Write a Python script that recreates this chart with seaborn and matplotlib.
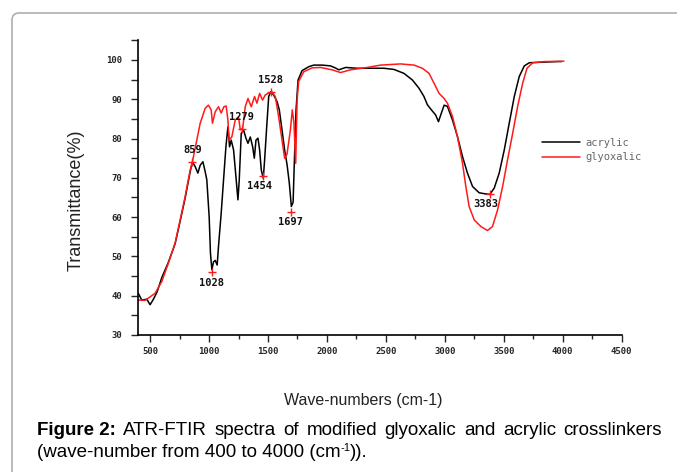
import matplotlib
matplotlib.use("Agg")
import matplotlib.pyplot as plt
from matplotlib.patches import FancyBboxPatch
from matplotlib.ticker import MultipleLocator
from matplotlib.transforms import IdentityTransform
import seaborn as sns
import pandas as pd

# spectra (wave-number, transmittance %)
acrylic_x = [400, 429, 472, 500, 528, 560, 599, 655, 712, 755, 797, 840, 859, 882, 905, 925,
             948, 967, 981, 1001, 1012, 1024, 1038, 1052, 1069, 1080, 1103, 1123, 1143, 1160,
             1174, 1188, 1208, 1228, 1245, 1256, 1273, 1293, 1313, 1330, 1350, 1370, 1384,
             1398, 1415, 1429, 1443, 1460, 1471, 1489, 1506, 1523, 1548, 1577, 1596, 1619,
             1641, 1662, 1681, 1698, 1713, 1724, 1738, 1755, 1789, 1846, 1888, 1960, 2030,
             2070, 2101, 2158, 2257, 2342, 2483, 2568, 2653, 2725, 2781, 2823, 2852, 2886,
             2922, 2946, 2965, 2994, 3022, 3065, 3107, 3150, 3192, 3235, 3291, 3348, 3382,
             3419, 3461, 3504, 3546, 3589, 3631, 3674, 3716, 3787, 3958, 3990]
acrylic_y = [40.6, 38.9, 39.1, 37.7, 39.1, 41.0, 44.6, 48.5, 53.2, 59.0, 64.8, 71.6, 74.0, 72.9,
             71.2, 73.2, 74.1, 71.6, 69.5, 60.1, 50.8, 46.6, 48.6, 49.0, 47.8, 52.5, 61.0, 69.5,
             77.9, 83.0, 77.9, 79.6, 77.1, 70.3, 64.4, 69.4, 81.3, 82.2, 80.1, 78.8, 80.4, 77.9,
             75.0, 79.6, 80.1, 77.1, 72.0, 69.9, 74.4, 83.0, 90.7, 91.9, 91.1, 89.4, 87.3, 82.2,
             77.1, 73.3, 68.6, 62.7, 63.8, 74.6, 87.3, 94.9, 97.3, 98.3, 98.7, 98.7, 98.5, 98.0,
             97.5, 98.1, 97.9, 97.9, 97.9, 97.6, 96.6, 94.9, 92.8, 90.7, 88.6, 87.3, 86.0, 84.3,
             86.0, 88.5, 88.2, 84.7, 80.5, 75.4, 71.2, 67.8, 66.2, 65.9, 65.8, 67.4, 71.2, 77.1,
             83.9, 90.7, 95.8, 98.5, 99.3, 99.4, 99.6, 99.6]

glyoxalic_x = [400, 457, 542, 599, 655, 712, 755, 797, 840, 859, 896, 925, 967, 995, 1018, 1029,
               1052, 1080, 1103, 1126, 1145, 1160, 1170, 1193, 1222, 1250, 1265, 1285, 1307,
               1330, 1358, 1386, 1406, 1429, 1454, 1477, 1500, 1534, 1562, 1590, 1619, 1641,
               1661, 1690, 1706, 1720, 1735, 1747, 1760, 1803, 1874, 1945, 2044, 2115, 2200,
               2342, 2455, 2625, 2739, 2809, 2866, 2908, 2951, 2994, 3022, 3065, 3107, 3150,
               3178, 3206, 3249, 3306, 3362, 3404, 3447, 3490, 3532, 3575, 3617, 3660, 3697,
               3745, 3844, 4010]
glyoxalic_y = [38.9, 38.8, 40.6, 43.6, 48.3, 53.4, 59.3, 65.2, 72.0, 74.1, 79.6, 83.9, 87.7, 88.5,
               87.3, 83.9, 86.8, 88.1, 86.5, 88.1, 88.3, 84.7, 79.6, 80.4, 84.7, 85.5, 82.2, 82.6,
               88.1, 90.2, 88.1, 90.7, 89.0, 91.5, 89.8, 91.1, 91.5, 91.9, 90.7, 85.6, 79.6, 75.0,
               76.0, 82.2, 87.3, 84.0, 73.7, 89.8, 94.5, 97.0, 98.0, 98.1, 97.5, 96.8, 97.5, 98.1,
               98.7, 99.0, 98.7, 97.9, 96.6, 94.1, 91.5, 90.2, 89.0, 85.6, 80.5, 73.7, 67.8, 62.7,
               59.3, 57.6, 56.6, 57.6, 61.8, 67.8, 74.6, 81.3, 88.1, 94.1, 97.9, 99.3, 99.6, 99.7]

# marked peaks
peak_x = [859, 1028, 1279, 1454, 1528, 1697, 3383]
peak_y = [74.1, 46.1, 82.4, 70.5, 91.8, 61.4, 65.8]
peak_labels = ["859", "1028", "1279", "1454", "1528", "1697", "3383"]
peak_offsets = [(0, 12), (-1, -11), (0, 12), (-3, -10), (-1, 12), (-1, -10), (-4, -10)]

df = pd.concat([
    pd.DataFrame({"wave": acrylic_x, "T": acrylic_y, "sample": "acrylic"}),
    pd.DataFrame({"wave": glyoxalic_x, "T": glyoxalic_y, "sample": "glyoxalic"}),
])

sns.set_style("ticks")
plt.rcParams["font.family"] = ["Liberation Sans", "DejaVu Sans"]
plt.rcParams["mathtext.fontset"] = "custom"
plt.rcParams["mathtext.rm"] = "Liberation Sans"
plt.rcParams["mathtext.it"] = "Liberation Sans:italic"

fig = plt.figure(figsize=(6.77, 4.72), dpi=100)
ax = fig.add_axes([0.2043, 0.2903, 0.714, 0.6242])

sns.lineplot(data=df, x="wave", y="T", hue="sample", sort=False, estimator=None,
             palette={"acrylic": "black", "glyoxalic": "#ff1a1a"}, lw=1.1, ax=ax)

ax.plot(peak_x, peak_y, "+", color="#ff1a1a", ms=6, mew=1.0)
for px, py, lab, off in zip(peak_x, peak_y, peak_labels, peak_offsets):
    ax.annotate(lab, (px, py), xytext=off, textcoords="offset pixels", ha="center", va="center",
                fontsize=7.5, fontweight="bold", family="DejaVu Sans Mono", color="#111111")

ax.set_xlim(400, 4500)
ax.set_ylim(30, 105)
ax.xaxis.set_major_locator(MultipleLocator(500))
ax.xaxis.set_minor_locator(MultipleLocator(250))
ax.yaxis.set_major_locator(MultipleLocator(10))
ax.yaxis.set_minor_locator(MultipleLocator(5))
ax.tick_params(axis="x", which="major", length=5, width=1, pad=3.5)
ax.tick_params(axis="x", which="minor", length=3, width=1)
ax.tick_params(axis="y", which="both", length=5, width=1, pad=6.5)
for lab in ax.get_xticklabels() + ax.get_yticklabels():
    lab.set_family("DejaVu Sans Mono")
    lab.set_fontweight("bold")
    lab.set_fontsize(6.5)
sns.despine(ax=ax)
for s in ["left", "bottom"]:
    ax.spines[s].set_linewidth(1.2)
    ax.spines[s].set_color("black")

ax.set_xlabel("Wave-numbers (cm-1)", fontsize=11.5, color="#222222")
ax.set_ylabel("Transmittance(%)", fontsize=13, color="#222222")
ax.xaxis.set_label_coords(0.465, -0.197)
ax.yaxis.set_label_coords(-0.112, 0.458)

leg = ax.legend(loc="center left", bbox_to_anchor=(0.825, 0.628), frameon=False,
                handlelength=3.6, handletextpad=0.5, labelspacing=0.45, borderpad=0,
                prop={"family": "DejaVu Sans Mono", "size": 7.5})
for t in leg.get_texts():
    t.set_color("#666666")

# frame around the figure panel (open to the right and bottom)
frame = FancyBboxPatch((12, -40), 760, 472 - 13 + 40, boxstyle="round,pad=0,rounding_size=7",
                       transform=IdentityTransform(), fill=False, ec="#a8a8a8", lw=1.1,
                       clip_on=False)
fig.patches.append(frame)

# caption, first line justified
fig.canvas.draw()
r = fig.canvas.get_renderer()
words = ["Figure 2:", "ATR-FTIR", "spectra", "of", "modified", "glyoxalic", "and", "acrylic",
         "crosslinkers"]
cap = []
for i, w in enumerate(words):
    cap.append(fig.text(0, 1 - 435 / 472, w, fontsize=13.5, color="black",
                        fontweight="bold" if i == 0 else "normal", va="baseline"))
widths = [t.get_window_extent(r).width for t in cap]
gap = (662 - 37 - sum(widths)) / (len(words) - 1)
x = 37
for t, w in zip(cap, widths):
    t.set_x(x / 677)
    x += w + gap
fig.text(37 / 677, 1 - 457 / 472, "(wave-number from 400 to 4000 (cm",
         fontsize=13.5, color="black", va="baseline")
sup_x = 37 + fig.texts[-1].get_window_extent(r).width
fig.text(sup_x / 677, 1 - 451 / 472, "-1", fontsize=8, color="black", va="baseline")
fig.text((sup_x + 9) / 677, 1 - 457 / 472, ")).", fontsize=13.5, color="black", va="baseline")

fig.savefig("out.png", dpi=100)
